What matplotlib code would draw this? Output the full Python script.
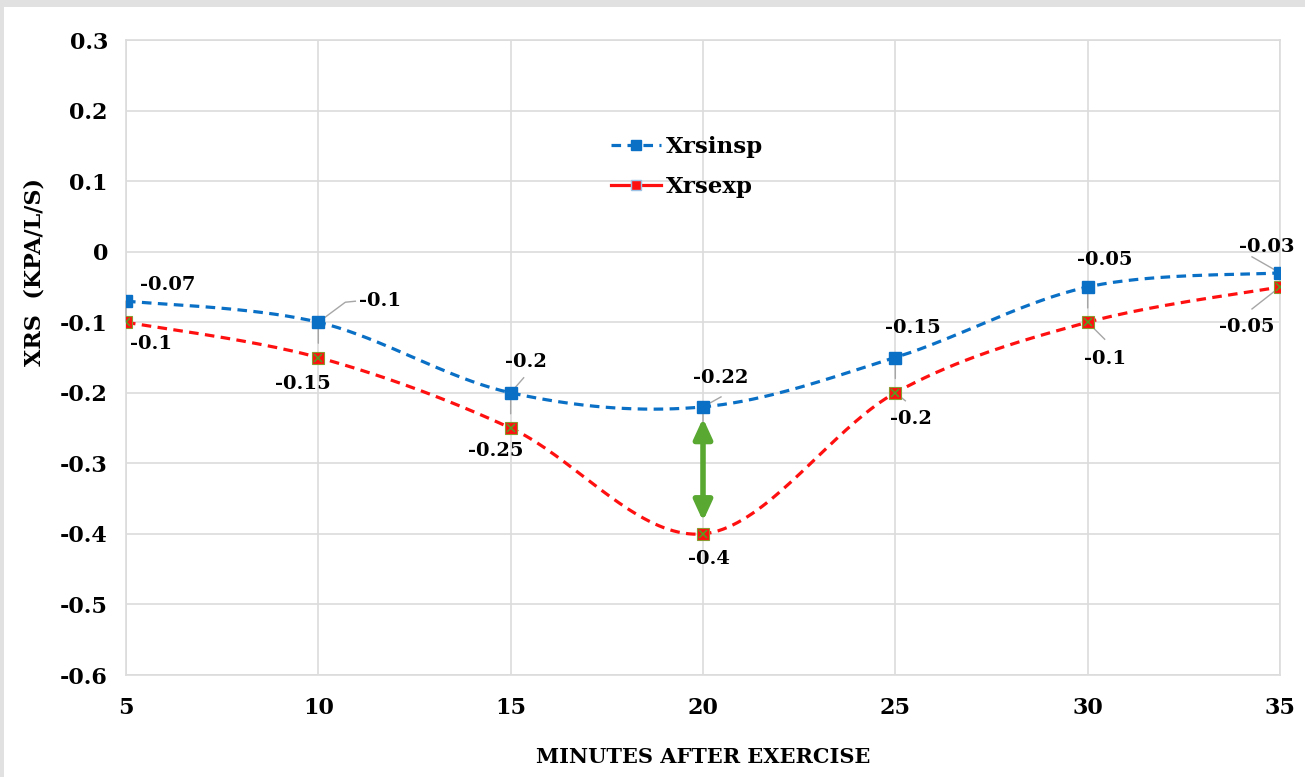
import numpy as np
import matplotlib
matplotlib.use("Agg")
import matplotlib.pyplot as plt
from matplotlib.lines import Line2D
from matplotlib.patches import Rectangle

minutes = [5, 10, 15, 20, 25, 30, 35]
xrs_insp = [-0.07, -0.10, -0.20, -0.22, -0.15, -0.05, -0.03]
xrs_exp = [-0.10, -0.15, -0.25, -0.40, -0.20, -0.10, -0.05]
insp_labels = ["-0.07", "-0.1", "-0.2", "-0.22", "-0.15", "-0.05", "-0.03"]
exp_labels = ["-0.1", "-0.15", "-0.25", "-0.4", "-0.2", "-0.1", "-0.05"]
y_ticks = [0.3, 0.2, 0.1, 0, -0.1, -0.2, -0.3, -0.4, -0.5, -0.6]
y_tick_labels = ["0.3", "0.2", "0.1", "0", "-0.1", "-0.2", "-0.3", "-0.4", "-0.5", "-0.6"]

BLUE = "#0A70C6"
RED = "#FF1010"
GREEN = "#58A832"
FONT = "DejaVu Serif"


def smooth(xs, ys, n=40):
    xs = np.asarray(xs, float)
    ys = np.asarray(ys, float)
    P = np.column_stack([xs, ys])
    P = np.vstack([P[0], P, P[-1]])
    out = []
    t = np.linspace(0, 1, n)[:, None]
    for i in range(1, len(P) - 2):
        p0, p1, p2, p3 = P[i - 1], P[i], P[i + 1], P[i + 2]
        b1 = p1 + (p2 - p0) / 6
        b2 = p2 - (p3 - p1) / 6
        seg = ((1 - t) ** 3) * p1 + 3 * ((1 - t) ** 2) * t * b1 + 3 * (1 - t) * t ** 2 * b2 + t ** 3 * p2
        out.append(seg if i == 1 else seg[1:])
    c = np.vstack(out)
    return c[:, 0], c[:, 1]


plt.rcParams["font.family"] = [FONT, "DejaVu Sans"]
plt.rcParams["font.weight"] = "bold"

fig = plt.figure(figsize=(13.05, 7.77), dpi=100)
fig.patch.set_facecolor("white")
# gray frame around the picture
fig.patches.append(Rectangle((0, 1 - 7 / 777), 1, 7 / 777, transform=fig.transFigure,
                             facecolor="#e1e1e1", edgecolor="none", zorder=0))
fig.patches.append(Rectangle((0, 0), 4 / 1305, 1, transform=fig.transFigure,
                             facecolor="#e1e1e1", edgecolor="none", zorder=0))

ax = fig.add_axes([126 / 1305, 1 - 675 / 777, (1280 - 126) / 1305, (675 - 40) / 777])
ax.set_xlim(5, 35)
ax.set_ylim(-0.6, 0.3)
ax.set_xticks(minutes)
ax.set_xticklabels([str(m) for m in minutes])
ax.set_yticks(y_ticks)
ax.set_yticklabels(y_tick_labels)
ax.grid(True, color="#dcdcdc", linewidth=1.2)
ax.set_axisbelow(True)
for s in ax.spines.values():
    s.set_color("#dcdcdc")
    s.set_linewidth(1.2)
ax.tick_params(length=0, labelsize=16, pad=13)
ax.tick_params(axis="x", pad=16)
for lab in ax.get_xticklabels() + ax.get_yticklabels():
    lab.set_fontweight("bold")

# smooth curves
sx, sy = smooth(minutes, xrs_insp)
ax.plot(sx, sy, color=BLUE, lw=2.3, ls=(0, (3, 2)), zorder=3)
ex, ey = smooth(minutes, xrs_exp)
ax.plot(ex, ey, color=RED, lw=2.3, ls=(0, (3, 2)), zorder=3)

# markers
ax.plot(minutes, xrs_insp, ls="none", marker="s", ms=8.5, color=BLUE, zorder=5)
ax.plot(minutes, xrs_exp, ls="none", marker="s", ms=8.5, mfc=RED, mec="#8a9a30", mew=0.8, zorder=5)
ax.plot(minutes, xrs_exp, ls="none", marker="x", ms=6, color="#5a9a20", mew=1.2, zorder=6)

px2pt = 0.72
leader = dict(arrowstyle="-", color="#a6a6a6", lw=1.0, shrinkA=0, shrinkB=0)

# short vertical leader ticks below blue markers
for i in [0, 1, 2, 3, 4, 5]:
    ax.annotate("", xy=(minutes[i], xrs_insp[i]), xytext=(0, -21 * px2pt),
                textcoords="offset points", arrowprops=leader, zorder=4)

# labels for the blue series (offsets in px, converted to points)
insp_off = [(42, -16), (62, -21), (15, -31), (18, -29), (18, -30), (17, -27), (-13, -26)]
for i, (dx, dy) in enumerate(insp_off):
    ax.annotate(insp_labels[i], xy=(minutes[i], xrs_insp[i]),
                xytext=(dx * px2pt, -dy * px2pt), textcoords="offset points",
                ha="center", va="center", fontsize=14, fontweight="bold", zorder=7)

# labels for the red series
exp_off = [(25, 22), (-15, 26), (-15, 23), (6, 25), (16, 26), (17, 37), (-33, 40)]
for i, (dx, dy) in enumerate(exp_off):
    ax.annotate(exp_labels[i], xy=(minutes[i], xrs_exp[i]),
                xytext=(dx * px2pt, -dy * px2pt), textcoords="offset points",
                ha="center", va="center", fontsize=14, fontweight="bold", zorder=7)

# angled leader lines
angled = [
    (minutes[1], xrs_insp[1], [(0, 0), (27, -20), (37, -21)]),
    (minutes[2], xrs_insp[2], [(0, 0), (13, -15)]),
    (minutes[3], xrs_insp[3], [(0, 0), (18, -10)]),
    (minutes[6], xrs_insp[6], [(0, 0), (-28, -16)]),
    (minutes[4], xrs_exp[4], [(0, 0), (10, 8)]),
    (minutes[5], xrs_exp[5], [(0, 0), (17, 17)]),
    (minutes[6], xrs_exp[6], [(0, 0), (-28, 22)]),
]
for x0, y0, pts in angled:
    disp0 = ax.transData.transform((x0, y0))
    xs_l, ys_l = [], []
    for dx, dy in pts:
        d = ax.transData.inverted().transform((disp0[0] + dx, disp0[1] - dy))
        xs_l.append(d[0]); ys_l.append(d[1])
    ax.plot(xs_l, ys_l, color="#a6a6a6", lw=1.0, zorder=4)

# green double arrow between the series at 20 minutes
i20 = minutes.index(20)
ax.annotate("", xy=(minutes[i20], xrs_exp[i20] + 0.018), xytext=(minutes[i20], xrs_insp[i20] - 0.016),
            arrowprops=dict(arrowstyle="<|-|>,head_length=1.2,head_width=0.55", color=GREEN, lw=4,
                            shrinkA=0, shrinkB=0), zorder=6)

# legend
h1 = Line2D([], [], color=BLUE, lw=2.3, ls=(0, (3, 2)), marker="s", ms=7.5)
h2 = Line2D([], [], color=RED, lw=2.3, ls="-", marker="s", ms=7.5, mfc=RED, mec="#9cc3e6", mew=1)
leg = ax.legend([h1, h2], ["Xrsinsp", "Xrsexp"], loc="upper left",
                bbox_to_anchor=((590 - 126) / 1154, 1 - (115 - 40) / 635),
                frameon=False, prop=dict(family=FONT, weight="bold", size=16.5),
                handlelength=2.2, handletextpad=0.2, labelspacing=0.8)

ax.set_xlabel("MINUTES AFTER EXERCISE", fontsize=15, fontweight="bold", labelpad=20)
ax.set_ylabel("XRS  (KPA/L/S)", fontsize=16, fontweight="bold", labelpad=12)
ax.yaxis.set_label_coords(-0.07, (675 - 272) / 635)

fig.savefig("out.png", dpi=100)
